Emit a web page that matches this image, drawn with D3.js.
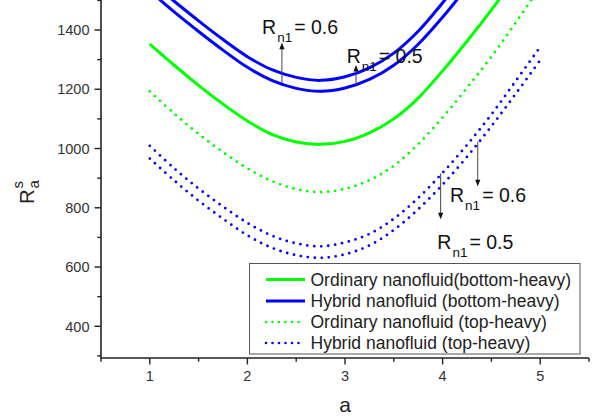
<!DOCTYPE html>
<html>
<head>
<meta charset="utf-8">
<script src="https://cdn.jsdelivr.net/npm/d3@7"></script>
<style>
  html, body { margin: 0; padding: 0; background: #fff; }
  svg { display: block; font-family: "Liberation Sans", Arial, sans-serif; }
</style>
</head>
<body>
<svg id="chart" width="595" height="416"></svg>
<script>
// ---- data ----
const aValues = [1, 1.25, 1.5, 1.75, 2, 2.25, 2.5, 2.75, 3, 3.25, 3.5, 3.75, 4, 4.25, 4.5, 4.75, 5];
const ordinaryBottom = [1352,1281,1213,1150,1093,1048,1022,1014,1024,1053,1100,1170,1262,1362,1468,1580,1700];
const hybridBottom06 = [1565,1497,1431,1368,1310,1266,1240,1230,1242,1272,1322,1396,1492,1598,1710,1830,1955];
const hybridBottom05 = [1532,1461,1395,1332,1274,1230,1203,1193,1204,1233,1281,1352,1443,1545,1652,1768,1890];
const ordinaryTop    = [1193,1118,1049,988,933,890,863,853,864,893,942,1015,1105,1205,1310,1425,1545];
const hybridTop06    = [1009,933,865,804,749,706,680,670,683,712,763,833,918,1012,1115,1228,1343];
const hybridTop05    = [966,892,824,763,707,665,640,631,643,673,725,795,878,972,1075,1185,1298];

const xTicks = [1, 2, 3, 4, 5];
const yTicks = [400, 600, 800, 1000, 1200, 1400];
const legendLabels = [
  "Ordinary nanofluid(bottom-heavy)",
  "Hybrid nanofluid (bottom-heavy)",
  "Ordinary nanofluid (top-heavy)",
  "Hybrid nanofluid (top-heavy)"
];
// annotations in data units: arrow x, from value, to value
const arrows = [
  {a: 2.354, from: 1220, to: 1357},
  {a: 3.113, from: 1214, to: 1282},
  {a: 4.36,  from: 1023, to: 873},
  {a: 3.98,  from: 916,  to: 761}
];
const labels = [
  {a: 2.150, v: 1385, text: "= 0.6"},
  {a: 3.017, v: 1288, text: "= 0.5"},
  {a: 4.076, v: 820,  text: "= 0.6"},
  {a: 3.946, v: 660,  text: "= 0.5"}
];

// ---- layout ----
const svg = d3.select("#chart");
const pLeft = 101, pRight = 589, pTop = 0, pBottom = 358;
const x = d3.scaleLinear().domain([0.5, 5.5]).range([pLeft, pRight]);
const y = d3.scaleLinear().domain([400, 1400]).range([326.3, 30]);

const GREEN = "#00ff00", BLUE = "#0000ff", INK = "#222";

svg.append("defs").append("clipPath").attr("id", "plotclip")
  .append("rect").attr("x", pLeft).attr("y", pTop).attr("width", pRight - pLeft).attr("height", pBottom - pTop);

// ---- series ----
const series = [
  {vals: ordinaryBottom, color: GREEN, dotted: false},
  {vals: hybridBottom06, color: BLUE, dotted: false},
  {vals: hybridBottom05, color: BLUE, dotted: false},
  {vals: ordinaryTop, color: GREEN, dotted: true},
  {vals: hybridTop06, color: BLUE, dotted: true},
  {vals: hybridTop05, color: BLUE, dotted: true}
];
const line = d3.line().x(d => x(d[0])).y(d => y(d[1])).curve(d3.curveCatmullRom.alpha(0.5));
const plot = svg.append("g").attr("clip-path", "url(#plotclip)");
series.forEach(s => {
  const pts = aValues.map((a, i) => [a, s.vals[i]]);
  const p = plot.append("path").attr("d", line(pts))
    .attr("fill", "none").attr("stroke", s.color);
  if (s.dotted) {
    p.attr("stroke-width", 2.8).attr("stroke-dasharray", "0 7").attr("stroke-linecap", "round");
  } else {
    p.attr("stroke-width", 3).attr("stroke-linejoin", "round");
  }
});

// ---- axes ----
const xAxis = svg.append("g");
xAxis.append("line").attr("x1", pLeft).attr("x2", pRight).attr("y1", pBottom).attr("y2", pBottom)
  .attr("stroke", INK).attr("stroke-width", 1.6);
d3.range(0.5, 5.51, 0.5).forEach(t => {
  const major = xTicks.includes(t);
  xAxis.append("line").attr("x1", x(t)).attr("x2", x(t)).attr("y1", pBottom).attr("y2", pBottom + (major ? 6.5 : 3.7))
    .attr("stroke", INK).attr("stroke-width", 1.4);
});
xTicks.forEach(t => {
  xAxis.append("text").attr("x", x(t)).attr("y", 380.5).attr("text-anchor", "middle")
    .attr("font-size", 14.5).attr("fill", "#333").text(t);
});

const yAxis = svg.append("g");
yAxis.append("line").attr("x1", pLeft).attr("x2", pLeft).attr("y1", pTop).attr("y2", pBottom + 0.8)
  .attr("stroke", INK).attr("stroke-width", 1.6);
d3.range(300, 1501, 100).forEach(t => {
  const major = yTicks.includes(t);
  yAxis.append("line").attr("x1", pLeft).attr("x2", pLeft - (major ? 6.5 : 3.7)).attr("y1", y(t)).attr("y2", y(t))
    .attr("stroke", INK).attr("stroke-width", 1.4);
});
yTicks.forEach(t => {
  yAxis.append("text").attr("x", 89.5).attr("y", y(t) + 5.2).attr("text-anchor", "end")
    .attr("font-size", 14.5).attr("fill", "#333").text(t);
});

// axis titles
svg.append("text").attr("x", x(3)).attr("y", 411.5).attr("text-anchor", "middle")
  .attr("font-size", 21).attr("fill", INK).text("a");
const yt = svg.append("g").attr("transform", "translate(34,204) rotate(-90)");
yt.append("text").attr("x", 0).attr("y", 0).attr("font-size", 20.5).attr("fill", INK).text("R");
yt.append("text").attr("x", 15.5).attr("y", 5).attr("font-size", 15).attr("fill", INK).text("a");
yt.append("text").attr("x", 15.5).attr("y", -11).attr("font-size", 15).attr("fill", INK).text("s");

// ---- annotations ----
const ann = svg.append("g");
arrows.forEach(ar => {
  const xx = x(ar.a), y1 = y(ar.from), y2 = y(ar.to);
  const dir = y2 < y1 ? 1 : -1; // arrow head pointing up (1) or down (-1)
  ann.append("line").attr("x1", xx).attr("x2", xx).attr("y1", y1).attr("y2", y2 + dir * 5)
    .attr("stroke", "#444").attr("stroke-width", 1);
  ann.append("path")
    .attr("d", `M${xx},${y2} L${xx - 2.6},${y2 + dir * 6.5} L${xx + 2.6},${y2 + dir * 6.5} Z`)
    .attr("fill", "#111");
});
labels.forEach(l => {
  const t = ann.append("text").attr("x", x(l.a)).attr("y", y(l.v)).attr("font-size", 19.5).attr("fill", "#111");
  t.append("tspan").text("R");
  t.append("tspan").attr("font-size", 13.5).attr("dy", 8).attr("dx", 1).text("n1");
  t.append("tspan").attr("dy", -8).attr("dx", 2).text(l.text);
});

// ---- legend ----
const lg = svg.append("g");
lg.append("rect").attr("x", 249.5).attr("y", 263.5).attr("width", 330.5).attr("height", 90.5)
  .attr("fill", "#fff").attr("stroke", "#555").attr("stroke-width", 1);
const rowY = [279.5, 301, 322, 343];
const legendSeries = [series[0], series[1], series[3], series[4]];
legendLabels.forEach((lab, i) => {
  const s = legendSeries[i];
  const ln = lg.append("line").attr("x1", 266).attr("x2", 305).attr("y1", rowY[i]).attr("y2", rowY[i])
    .attr("stroke", s.color);
  if (s.dotted) ln.attr("stroke-width", 2.6).attr("stroke-dasharray", "0 6.5").attr("stroke-linecap", "round");
  else ln.attr("stroke-width", 3.2);
  lg.append("text").attr("x", 310.5).attr("y", rowY[i] + 6.2).attr("font-size", 17.5).attr("fill", INK).text(lab);
});
</script>
</body>
</html>
